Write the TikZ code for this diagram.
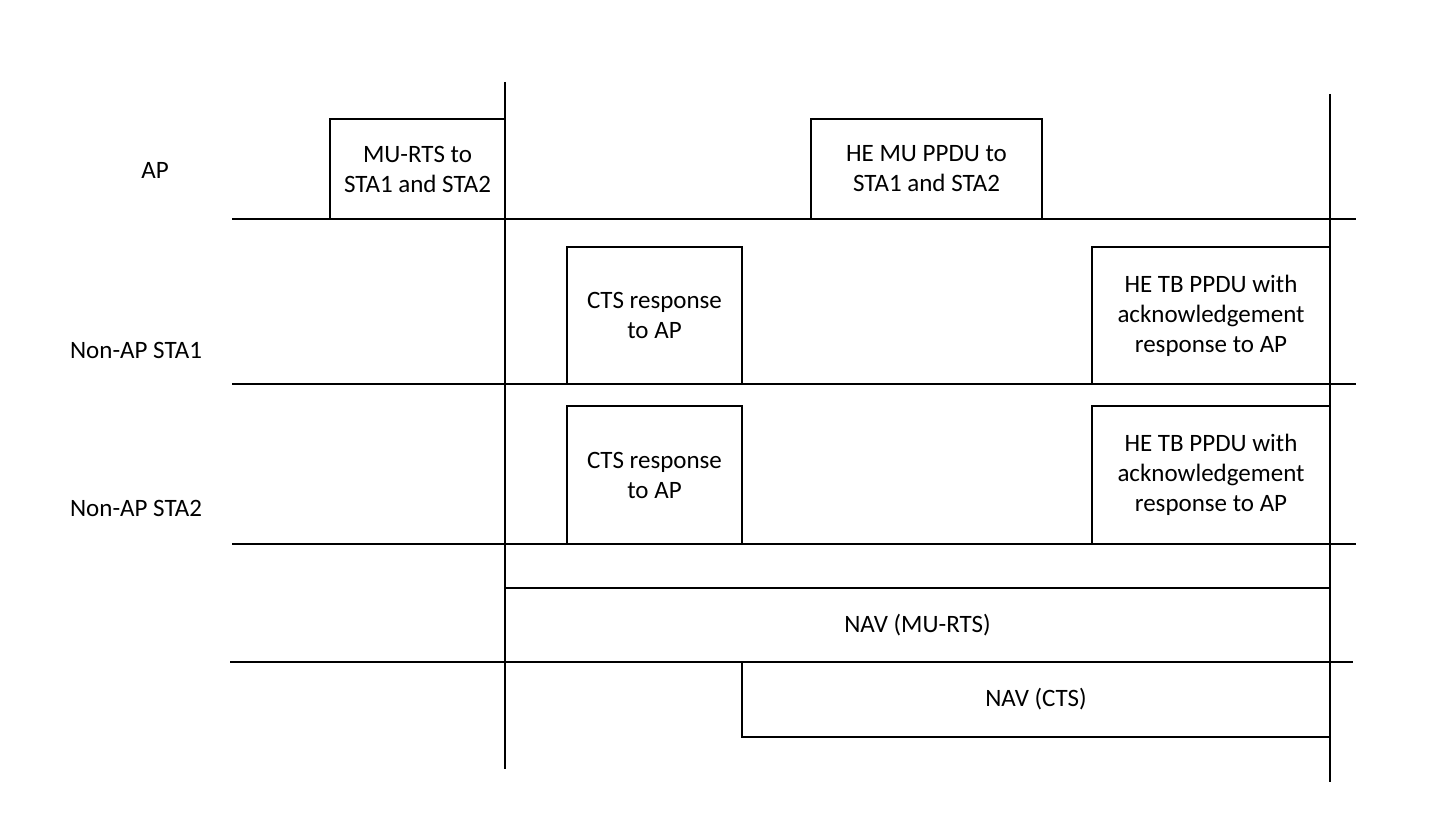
\documentclass[tikz,border=0pt]{standalone}
\usepackage{fontspec}
\setmainfont{Carlito}
\begin{document}
\begin{tikzpicture}[x=1pt,y=-1pt,
  line/.style={line width=1.6pt},
  frame/.style={draw,line width=1.6pt,rectangle,inner sep=0pt,align=center,
     font=\fontsize{25}{30}\selectfont},
  lbl/.style={inner sep=0pt,font=\fontsize{25}{30}\selectfont}]
\useasboundingbox (0,0) rectangle (1454,834);
% timelines
\coordinate (apL) at (232,219); \coordinate (apR) at (1356,219);
\coordinate (s1L) at (232,384); \coordinate (s1R) at (1356,384);
\coordinate (s2L) at (232,544); \coordinate (s2R) at (1356,544);
\coordinate (nvL) at (230,662); \coordinate (nvR) at (1353,662);
\coordinate (v1T) at (505,82);  \coordinate (v1B) at (505,769);
\coordinate (v2T) at (1330,94); \coordinate (v2B) at (1330,782);
\draw[line] (apL) -- (apR);
\draw[line] (s1L) -- (s1R);
\draw[line] (s2L) -- (s2R);
\draw[line] (nvL) -- (nvR);
\draw[line] (v1T) -- (v1B);
\draw[line] (v2T) -- (v2B);
% labels
\node[lbl] (lap) at (155,170) {AP};
\node[lbl] (ls1) at (136,350) {Non-AP STA1};
\node[lbl] (ls2) at (136,508) {Non-AP STA2};
% boxes
\node[frame,minimum width=175,minimum height=100] (murts) at (417.5,169) {MU-RTS to\\STA1 and STA2};
\node[frame,minimum width=231,minimum height=100] (hemu) at (926.5,169) {HE MU PPDU to\\STA1 and STA2};
\node[frame,minimum width=175,minimum height=137] (cts1) at (654.5,315.5) {CTS response\\to AP};
\node[frame,minimum width=238,minimum height=137] (hetb1) at (1211,315.5) {HE TB PPDU with\\acknowledgement\\response to AP};
\node[frame,minimum width=175,minimum height=138] (cts2) at (654.5,475) {CTS response\\to AP};
\node[frame,minimum width=238,minimum height=138] (hetb2) at (1211,475) {HE TB PPDU with\\acknowledgement\\response to AP};
\node[frame,minimum width=825,minimum height=74] (navrts) at (917.5,625) {NAV (MU-RTS)};
\node[frame,minimum width=588,minimum height=75] (navcts) at (1036,699.5) {NAV (CTS)};
\end{tikzpicture}
\end{document}
